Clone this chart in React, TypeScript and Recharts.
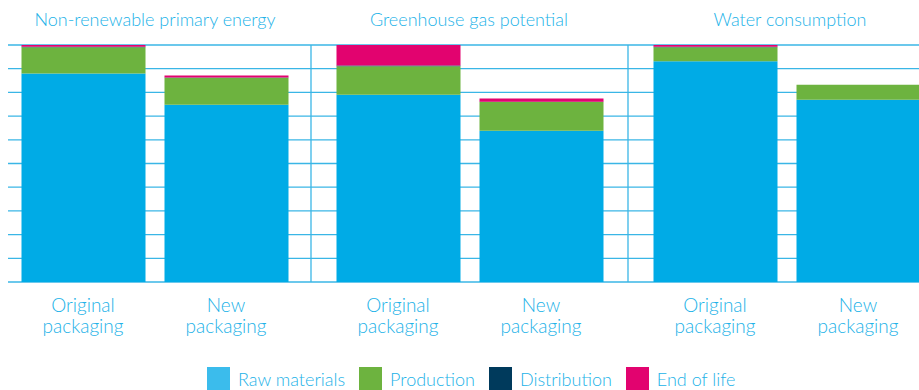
import { Bar, BarChart, CartesianGrid, XAxis, YAxis } from "recharts";

const panelTitles = ["Non-renewable primary energy", "Greenhouse gas potential", "Water consumption"];
const categories = ["Original packaging", "New packaging"];

// values per bar, panel by panel (orig, new, orig, new, orig, new), % of original
const rawMaterials = [88.0, 74.8, 79.0, 63.8, 93.1, 76.9];
const production = [11.0, 11.4, 12.0, 12.2, 5.9, 6.3];
const distribution = [0.3, 0.1, 0.4, 0.1, 0.3, 0];
const endOfLife = [0.7, 0.8, 8.6, 1.3, 0.7, 0];

const yTicks = [0, 10, 20, 30, 40, 50, 60, 70, 80, 90, 100];

const series = [
  { key: "raw", name: "Raw materials", color: "#00abe6", legend: "#3bbcec" },
  { key: "production", name: "Production", color: "#6db33f", legend: "#6db33f" },
  { key: "distribution", name: "Distribution", color: "#003a5c", legend: "#003a5c" },
  { key: "endOfLife", name: "End of life", color: "#e2036f", legend: "#e2036f" },
];

const TEXT = "#22b2e8";
const GRID = "#3ab6e6";
const FONT = "Lato, 'Open Sans', sans-serif";

function panelData(p: number) {
  return categories.map((c, i) => ({
    name: c,
    raw: rawMaterials[p * 2 + i],
    production: production[p * 2 + i],
    distribution: distribution[p * 2 + i],
    endOfLife: endOfLife[p * 2 + i],
  }));
}

function TwoLineTick({ x, y, payload }: any) {
  const [a, b] = String(payload.value).split(" ");
  return (
    <text x={x} y={y} textAnchor="middle" fill={TEXT} fontSize={19} fontFamily={FONT} fontWeight={300}>
      <tspan x={x} dy={28}>{a}</tspan>
      <tspan x={x} dy={21}>{b}</tspan>
    </text>
  );
}

// no y labels in the reference, only the grid
const NoTick = () => <g />;

const panels = [
  { left: 8, width: 303, pad: { left: 3.5, right: 13.5 }, axis: false, titleCenter: 155 },
  { left: 311, width: 317, pad: { left: 15.5, right: 15.5 }, axis: true, titleCenter: 469 },
  { left: 628, width: 317, pad: { left: 15.5, right: 15.5 }, axis: true, titleCenter: 790 },
];

export default function App() {
  return (
    <div style={{ position: "absolute", left: 0, top: 0, width: 919, height: 390, overflow: "hidden", background: "#fff", fontFamily: FONT }}>
      {panels.map((pn, p) => (
        <div key={p}>
          <div
            style={{
              position: "absolute",
              top: 8,
              left: pn.titleCenter - 160,
              width: 320,
              textAlign: "center",
              color: TEXT,
              fontSize: 18,
              fontWeight: 300,
              whiteSpace: "nowrap",
            }}
          >
            {panelTitles[p]}
          </div>
          <div style={{ position: "absolute", left: pn.left - 1, top: 0 }}>
            <BarChart width={pn.width + 1} height={345} data={panelData(p)} margin={{ top: 45, right: 0, left: 0, bottom: 0 }}>
              <CartesianGrid stroke={GRID} strokeWidth={1.3} vertical={false} />
              <XAxis
                dataKey="name"
                axisLine={false}
                tickLine={false}
                tickSize={0}
                height={63}
                padding={pn.pad}
                interval={0}
                tick={<TwoLineTick />}
              />
              <YAxis
                domain={[0, 100]}
                ticks={yTicks}
                width={1}
                tick={NoTick}
                tickLine={false}
                axisLine={pn.axis ? { stroke: GRID, strokeWidth: 1.3 } : false}
              />
              {series.map((s) => (
                <Bar key={s.key} dataKey={s.key} name={s.name} stackId="a" fill={s.color} barSize={124} isAnimationActive={false} />
              ))}
            </BarChart>
          </div>
        </div>
      ))}
      <div style={{ position: "absolute", top: 367, left: 207, display: "flex", alignItems: "center" }}>
        {series.map((s, i) => (
          <div key={s.key} style={{ display: "flex", alignItems: "center", marginLeft: i === 0 ? 0 : 14 }}>
            <div style={{ width: 23, height: 23, background: s.legend }} />
            <span style={{ marginLeft: 8, color: TEXT, fontSize: 18, fontWeight: 300 }}>{s.name}</span>
          </div>
        ))}
      </div>
    </div>
  );
}
